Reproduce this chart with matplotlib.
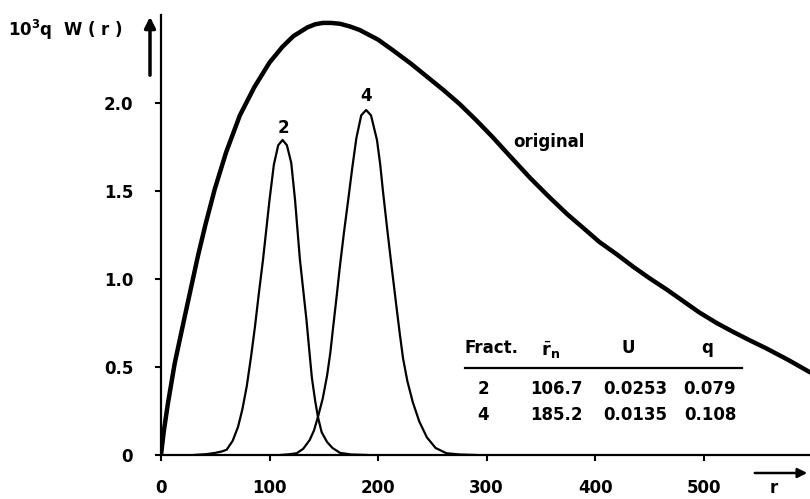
import matplotlib.pyplot as plt

# values
r_orig = [0, 2.7, 6.3, 12.6, 22, 34, 41, 49.5, 60, 72.7, 86, 100, 112, 122, 135, 142, 149, 157, 165, 174, 183, 200, 213.6, 230, 245,
          260, 275, 290, 305, 322, 340, 357, 374, 390, 404, 420, 435, 450, 466, 481, 496, 512, 527, 543, 558, 578, 598]
w_orig = [0, 0.14, 0.29, 0.52, 0.79, 1.13, 1.31, 1.51, 1.72, 1.93, 2.09, 2.23, 2.32, 2.38, 2.43, 2.447, 2.455, 2.455, 2.45, 2.435, 2.415, 2.36, 2.30, 2.225, 2.15,
          2.075, 1.995, 1.905, 1.81, 1.695, 1.575, 1.47, 1.37, 1.285, 1.21, 1.14, 1.07, 1.005, 0.94, 0.875, 0.81, 0.75, 0.70, 0.65, 0.605, 0.54, 0.47]

r_f2 = [30, 42, 50, 56, 60.5, 66, 71, 75, 79, 83, 86.6, 90, 94, 97, 100, 104, 108, 112, 116, 120,
        123.5, 126, 128, 131, 134, 137, 139, 142, 144.6, 148, 153, 158, 165, 175, 190]
w_f2 = [0, 0.005, 0.012, 0.02, 0.03, 0.08, 0.16, 0.26, 0.39, 0.56, 0.73, 0.91, 1.11, 1.28, 1.45, 1.65, 1.76, 1.79, 1.76, 1.66,
        1.45, 1.26, 1.11, 0.94, 0.77, 0.57, 0.44, 0.31, 0.216, 0.13, 0.074, 0.04, 0.012, 0.003, 0]

r_f4 = [110, 118, 125, 131, 137, 141, 144.6, 149, 153, 156, 158.5, 162, 164.8, 168.5, 172.5, 176.2, 180, 184.5, 189,
        193.5, 199, 202, 204.5, 208.5, 212.5, 217, 220, 223, 227, 232, 238, 245, 253, 263, 275, 290]
w_f4 = [0, 0.004, 0.01, 0.035, 0.085, 0.14, 0.216, 0.32, 0.45, 0.58, 0.72, 0.91, 1.07, 1.26, 1.45, 1.63, 1.80, 1.93, 1.96,
        1.93, 1.79, 1.65, 1.50, 1.28, 1.07, 0.84, 0.69, 0.55, 0.42, 0.30, 0.19, 0.10, 0.04, 0.01, 0.003, 0]

x_ticks = [0, 100, 200, 300, 400, 500]
y_ticks = [0, 0.5, 1.0, 1.5, 2.0]
y_ticklabels = ['0', '0.5', '1.0', '1.5', '2.0']

table_rows = [['2', '106.7', '0.0253', '0.079'],
              ['4', '185.2', '0.0135', '0.108']]

W, H = 810, 499


def px(x, y):
    return x / W, 1 - y / H


fig = plt.figure(figsize=(8.1, 4.99), dpi=100)
ax = fig.add_axes([161 / W, 44 / H, 649 / W, 440 / H])

ax.plot(r_orig, w_orig, color='black', lw=3.2, solid_capstyle='round', solid_joinstyle='round')
ax.plot(r_f2, w_f2, color='black', lw=1.6, solid_joinstyle='round')
ax.plot(r_f4, w_f4, color='black', lw=1.6, solid_joinstyle='round')

ax.set_xlim(0, 598)
ax.set_ylim(0, 2.5)
ax.spines['top'].set_visible(False)
ax.spines['right'].set_visible(False)
ax.spines['left'].set_linewidth(1.6)
ax.spines['bottom'].set_linewidth(1.6)

ax.set_xticks(x_ticks)
ax.set_xticklabels([str(t) for t in x_ticks], fontsize=12, fontweight='bold')
ax.set_yticks(y_ticks)
ax.set_yticklabels(y_ticklabels, fontsize=12, fontweight='bold')
ax.tick_params(axis='x', direction='out', length=4, width=1.5, pad=13)
ax.tick_params(axis='y', direction='out', length=4, width=1.5, pad=16)

ax.text(113, 1.86, '2', fontsize=12, fontweight='bold', ha='center', va='center')
ax.text(189, 2.04, '4', fontsize=12, fontweight='bold', ha='center', va='center')

x, y = px(549, 142)
fig.text(x, y, 'original', fontsize=12, fontweight='bold', ha='center', va='center')

# y axis label with arrow
x, y = px(8, 30)
fig.text(x, y, r'10$^{\mathbf{3}}$q  W ( r )', fontsize=12, fontweight='bold', ha='left', va='center')
ax.annotate('', xy=px(150, 14), xycoords='figure fraction', xytext=px(150, 78),
            textcoords='figure fraction',
            arrowprops=dict(arrowstyle='-|>', color='black', lw=2.5, mutation_scale=16))

# x axis arrow and label
ax.annotate('', xy=px(810, 473), xycoords='figure fraction', xytext=px(752, 473),
            textcoords='figure fraction',
            arrowprops=dict(arrowstyle='-|>', color='black', lw=1.8, mutation_scale=14))
x, y = px(774, 488)
fig.text(x, y, 'r', fontsize=12, fontweight='bold', ha='center', va='center')

# table
col_x = [483, 556, 635, 710]
header = ['Fract.', r'$\bar{\mathbf{r}}_{\mathbf{n}}$', 'U', 'q']
x, y = px(465, 348)
fig.text(x, y, header[0], fontsize=12, fontweight='bold', ha='left', va='center')
x, y = px(551, 350)
fig.text(x, y, header[1], fontsize=13, fontweight='bold', ha='center', va='center')
x, y = px(628, 348)
fig.text(x, y, header[2], fontsize=12, fontweight='bold', ha='center', va='center')
x, y = px(707, 348)
fig.text(x, y, header[3], fontsize=12, fontweight='bold', ha='center', va='center')
x0, y0 = px(465, 368)
x1, y1 = px(742, 368)
fig.add_artist(plt.Line2D([x0, x1], [y0, y1], color='black', lw=1.6))

row_y = [389, 415]
for row, yy in zip(table_rows, row_y):
    for txt, xx in zip(row, col_x):
        x, y = px(xx, yy)
        fig.text(x, y, txt, fontsize=12, fontweight='bold', ha='center', va='center')

plt.savefig('out.png', dpi=100)
